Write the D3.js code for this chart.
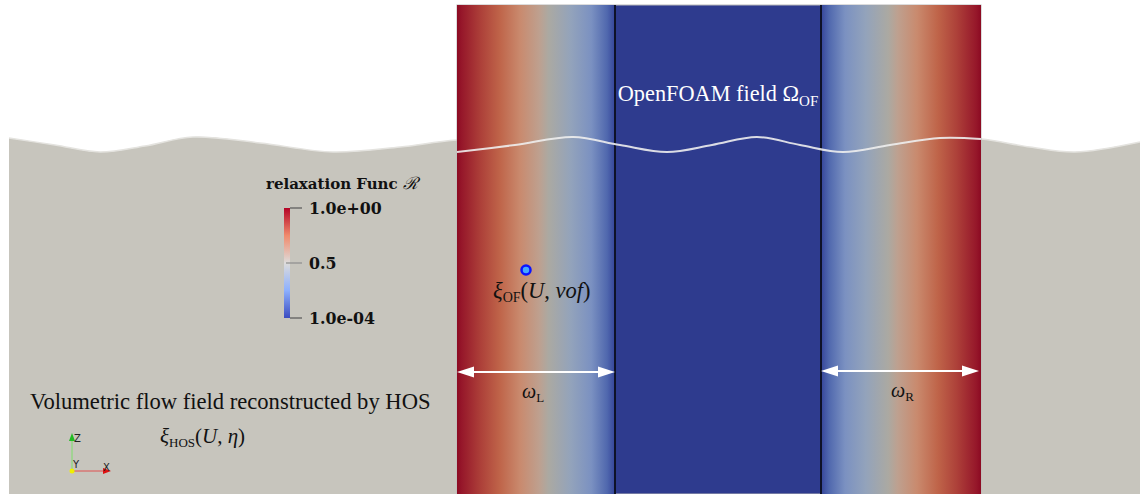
<!DOCTYPE html>
<html><head><meta charset="utf-8">
<script src="https://cdn.jsdelivr.net/npm/d3@7"></script>
<style>
html,body{margin:0;padding:0;background:#fff;}
svg{display:block;}
</style></head>
<body>
<svg id="c" width="1140" height="494"></svg>
<script>
// ---------- data (tank coordinates, metres) ----------
const tankX = [0, 11.4];            // horizontal extent of the view
const tankZ = [1.40, -3.54];        // vertical extent (top, bottom)
// HOS free surface (grey volume top)
const surfX   = [0.09, 0.55, 1.00, 1.45, 1.93, 2.60, 3.33, 4.00, 4.57, 5.73, 6.67, 7.57, 8.43, 9.40, 9.81, 10.30, 10.75, 11.40];
const surfEta = [0.02, -0.05, -0.12, -0.06, 0.03, -0.03, -0.12, -0.07, 0.00, 0.03, -0.12, 0.03, -0.12, 0.02, 0.01, -0.07, -0.12, -0.02];
// free surface inside OpenFOAM column
const ofX   = [4.57, 5.15, 5.73, 6.20, 6.67, 7.12, 7.57, 8.00, 8.43, 8.90, 9.40, 9.81];
const ofEta = [-0.12, -0.05, 0.03, -0.05, -0.12, -0.05, 0.03, -0.05, -0.12, -0.05, 0.02, 0.01];
// OpenFOAM column and relaxation zones
const columnX = [4.57, 9.81];
const columnTop = 1.35;
const zoneL = [4.57, 6.15];
const zoneR = [8.21, 9.81];
// colour of relaxation function across a zone (0 = outer edge, 1 = inner edge)
const zoneStops  = [0, 0.03, 0.15, 0.27, 0.4, 0.52, 0.58, 0.72, 0.85, 0.95, 1];
const zoneColors = ["#8c0a22", "#96172a", "#ad4039", "#bf6449", "#c98a6e", "#bea08f", "#aba9a2", "#93a3bb", "#7b91c1", "#5068ae", "#35459a"];
const coreColor = "#2e3b8e";
const greyColor = "#c7c5bd";
// colour bar
const cbTicks  = ["1.0e+00", "0.5", "1.0e-04"];
const cbValues = [1, 0.5, 0.0001];
const cbColors = ["#b40426", "#f08a6c", "#dddcdb", "#8db0fe", "#3b4cc0"];
// annotations
const arrows = [{x0: 4.57, x1: 6.15, z: -2.32, label: "ω", sub: "L", lx: 5.22},
                {x0: 8.21, x1: 9.79, z: -2.31, label: "ω", sub: "R", lx: 8.91}];
const probe = {x: 5.26, z: -1.30};

// ---------- scales ----------
const W = 1140, H = 494;
const x = d3.scaleLinear().domain(tankX).range([0, W]);
const y = d3.scaleLinear().domain(tankZ).range([0, H]);
const cb = d3.scaleLinear().domain([0.0001, 1]).range([318, 208]);

const svg = d3.select("#c");
const defs = svg.append("defs");

// grey HOS volume
const area = d3.area().x((d, i) => x(surfX[i])).y0(H).y1((d, i) => y(surfEta[i])).curve(d3.curveCatmullRom.alpha(0.5));
svg.append("path").datum(surfX).attr("d", area).attr("fill", greyColor);
const surfLine = d3.line().x((d, i) => x(surfX[i])).y((d, i) => y(surfEta[i])).curve(d3.curveCatmullRom.alpha(0.5));
svg.append("path").datum(surfX).attr("d", surfLine).attr("fill", "none").attr("stroke", "#e4e3df").attr("stroke-width", 1.5);

// relaxation zone gradients
function grad(id, reverse) {
  const g = defs.append("linearGradient").attr("id", id).attr("x1", reverse ? "100%" : "0%").attr("x2", reverse ? "0%" : "100%").attr("y1", "0").attr("y2", "0");
  zoneStops.forEach((s, i) => g.append("stop").attr("offset", s).attr("stop-color", zoneColors[i]));
}
grad("gL", false); grad("gR", true);

svg.append("rect").attr("x", x(columnX[0])).attr("y", y(columnTop)).attr("width", x(columnX[1]) - x(columnX[0])).attr("height", H - y(columnTop)).attr("fill", coreColor).attr("stroke", "#b9b9b9").attr("stroke-width", 1);
svg.append("rect").attr("x", x(zoneL[0])).attr("y", y(columnTop)).attr("width", x(zoneL[1]) - x(zoneL[0])).attr("height", H - y(columnTop)).attr("fill", "url(#gL)");
svg.append("rect").attr("x", x(zoneR[0])).attr("y", y(columnTop)).attr("width", x(zoneR[1]) - x(zoneR[0])).attr("height", H - y(columnTop)).attr("fill", "url(#gR)");
// zone boundaries
[zoneL[1], zoneR[0]].forEach(v => svg.append("line").attr("x1", x(v)).attr("x2", x(v)).attr("y1", y(columnTop)).attr("y2", H).attr("stroke", "#0e1228").attr("stroke-width", 2));

// free surface line inside column
const ofLine = d3.line().x((d, i) => x(ofX[i])).y((d, i) => y(ofEta[i])).curve(d3.curveCatmullRom.alpha(0.5));
svg.append("path").datum(ofX).attr("d", ofLine).attr("fill", "none").attr("stroke", "#eeeeee").attr("stroke-width", 2).attr("opacity", 0.9);

// OpenFOAM label
const tOF = svg.append("text").attr("x", x(7.18)).attr("y", 101).attr("text-anchor", "middle").attr("fill", "#fff").attr("font-family", "Liberation Serif").attr("font-size", 22.3);
tOF.append("tspan").text("OpenFOAM field Ω");
tOF.append("tspan").attr("font-size", 15).attr("dy", 5).text("OF");

// arrows
arrows.forEach(a => {
  const ax0 = x(a.x0), ax1 = x(a.x1), ay = y(a.z);
  svg.append("line").attr("x1", ax0 + 10).attr("x2", ax1 - 10).attr("y1", ay).attr("y2", ay).attr("stroke", "#fff").attr("stroke-width", 2);
  svg.append("path").attr("d", `M${ax0},${ay} L${ax0 + 17},${ay - 5.5} L${ax0 + 17},${ay + 5.5} Z`).attr("fill", "#fff");
  svg.append("path").attr("d", `M${ax1},${ay} L${ax1 - 17},${ay - 5.5} L${ax1 - 17},${ay + 5.5} Z`).attr("fill", "#fff");
  const t = svg.append("text").attr("x", x(a.lx)).attr("y", ay + 26).attr("fill", "#111").attr("font-family", "Liberation Serif").attr("font-size", 20).attr("font-style", "italic");
  t.append("tspan").text(a.label);
  t.append("tspan").attr("font-style", "normal").attr("font-size", 13).attr("dy", 4).text(a.sub);
});

// probe marker
svg.append("circle").attr("cx", x(probe.x)).attr("cy", y(probe.z)).attr("r", 4.5).attr("fill", "#45a8ff").attr("stroke", "#0a14ff").attr("stroke-width", 2.5);
const tXi = svg.append("text").attr("x", 493).attr("y", 298).attr("fill", "#111").attr("font-family", "Liberation Serif").attr("font-size", 22.5);
tXi.append("tspan").attr("font-style", "italic").text("ξ");
tXi.append("tspan").attr("font-size", 14).attr("dy", 4).text("OF");
tXi.append("tspan").attr("dy", -4).text("(");
tXi.append("tspan").attr("font-style", "italic").text("U");
tXi.append("tspan").text(", ");
tXi.append("tspan").attr("font-style", "italic").text("vof");
tXi.append("tspan").text(")");

// colour bar
const cbg = defs.append("linearGradient").attr("id", "cbg").attr("x1", 0).attr("x2", 0).attr("y1", "0%").attr("y2", "100%");
cbColors.forEach((c, i) => cbg.append("stop").attr("offset", i / (cbColors.length - 1)).attr("stop-color", c));
svg.append("rect").attr("x", 284).attr("y", cb(1)).attr("width", 6).attr("height", cb(0.0001) - cb(1)).attr("fill", "url(#cbg)");
const cbAxis = svg.append("g");
cbValues.forEach((v, i) => {
  const yy = i === 1 ? (cb(1) + cb(0.0001)) / 2 : cb(v);
  cbAxis.append("line").attr("x1", i === 1 ? 286 : 290).attr("x2", 302).attr("y1", yy).attr("y2", yy).attr("stroke", i === 1 ? "#8c8c8c" : "#555").attr("stroke-width", 1.2);
  cbAxis.append("text").attr("x", 309).attr("y", yy + 6).attr("fill", "#111").attr("font-family", "DejaVu Serif").attr("font-weight", "bold").attr("font-size", 15.8).text(cbTicks[i]);
});
const cbt = svg.append("text").attr("x", 266).attr("y", 189).attr("fill", "#111").attr("font-family", "DejaVu Serif").attr("font-size", 15);
cbt.append("tspan").attr("font-weight", "bold").text("relaxation Func ");
cbt.append("tspan").attr("font-family", "Liberation Serif").attr("font-style", "italic").attr("font-size", 17).text("ℛ");

// HOS labels
svg.append("text").attr("x", 30).attr("y", 409).attr("fill", "#111").attr("font-family", "Liberation Serif").attr("font-size", 22.6).text("Volumetric flow field reconstructed by HOS");
const tH = svg.append("text").attr("x", 160).attr("y", 443).attr("fill", "#111").attr("font-family", "Liberation Serif").attr("font-size", 21);
tH.append("tspan").attr("font-style", "italic").text("ξ");
tH.append("tspan").attr("font-size", 13).attr("dy", 4).text("HOS");
tH.append("tspan").attr("dy", -4).text("(");
tH.append("tspan").attr("font-style", "italic").text("U");
tH.append("tspan").text(", ");
tH.append("tspan").attr("font-style", "italic").text("η");
tH.append("tspan").text(")");

// orientation triad
const ox = 72, oy = 471;
svg.append("line").attr("x1", ox).attr("x2", ox).attr("y1", oy).attr("y2", 440).attr("stroke", "#7ddf6a").attr("stroke-width", 1);
svg.append("path").attr("d", `M${ox},${433} L${ox - 3},${441} L${ox + 3},${441} Z`).attr("fill", "#22bb22");
svg.append("line").attr("x1", ox).attr("x2", 104).attr("y1", oy).attr("y2", oy).attr("stroke", "#e05050").attr("stroke-width", 1);
svg.append("path").attr("d", `M${111},${oy} L${103},${oy - 3} L${103},${oy + 3} Z`).attr("fill", "#dd1111");
svg.append("circle").attr("cx", ox).attr("cy", oy).attr("r", 2.5).attr("fill", "#f0f000");
[["Z", 74, 442], ["Y", 73, 468], ["X", 103, 471]].forEach(d => svg.append("text").attr("x", d[1]).attr("y", d[2]).attr("fill", "#222").attr("font-family", "DejaVu Sans").attr("font-size", 10).text(d[0]));
</script>
</body></html>
